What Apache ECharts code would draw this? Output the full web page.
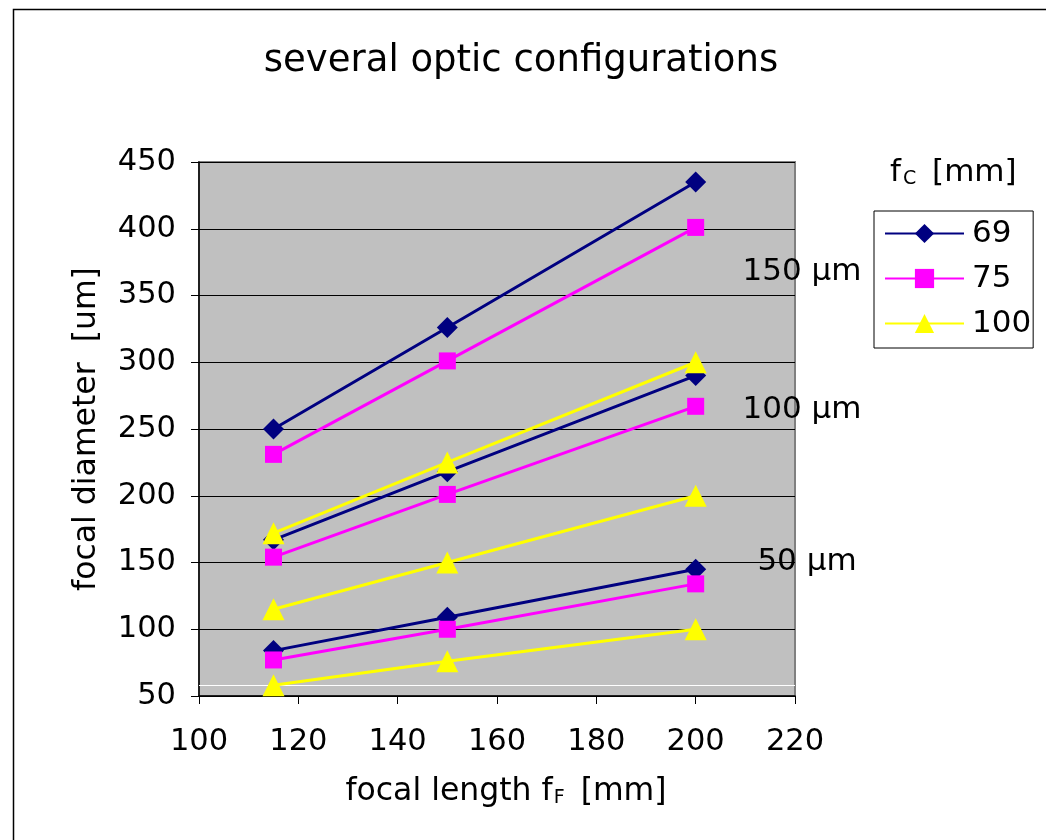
<!DOCTYPE html>
<html>
<head>
<meta charset="utf-8">
<title>several optic configurations</title>
<script src="https://cdn.jsdelivr.net/npm/echarts@6/dist/echarts.min.js"></script>
<style>
  html, body { margin: 0; padding: 0; background: #ffffff; }
  #chart { width: 1046px; height: 840px; }
</style>
</head>
<body>
<div id="chart"></div>
<script>
// focal length of the focusing lens f_F [mm]
const focalLength = [115, 150, 200];

// focal diameter [um] for collimator f_C = 69 mm, per fibre core (150, 100, 50 µm)
const fc69_150 = [250, 326, 435];
const fc69_100 = [167, 218, 290];
const fc69_50 = [84, 109, 145];

// collimator f_C = 75 mm
const fc75_150 = [231, 301, 401];
const fc75_100 = [154, 201, 267];
const fc75_50 = [77, 100, 134];

// collimator f_C = 100 mm
const fc100_150 = [172, 225, 300];
const fc100_100 = [115, 150, 200];
const fc100_50 = [58, 76, 100];

// white reference rule drawn across the plot
const whiteRule = 58;

// axis ticks
const xTicks = { min: 100, max: 220, step: 20 };
const yTicks = { min: 50, max: 450, step: 50 };

const legendNames = ['69', '75', '100'];
const coreLabels = ['150 µm', '100 µm', '50 µm'];

const FONT = '"DejaVu Sans", Verdana, sans-serif';

function pairs(ys) {
  return ys.map((y, i) => [focalLength[i], y]);
}

const styles = {
  '69':  { color: '#000080', symbol: 'diamond', symbolSize: 21 },
  '75':  { color: '#FF00FF', symbol: 'rect', symbolSize: 17 },
  '100': { color: '#FFFF00', symbol: 'triangle', symbolSize: 22 }
};

function makeSeries(name, ys) {
  const s = styles[name];
  return {
    name: name,
    type: 'line',
    data: pairs(ys),
    symbol: s.symbol,
    symbolSize: s.symbolSize,
    showAllSymbol: true,
    lineStyle: { color: s.color, width: 3 },
    itemStyle: { color: s.color },
    emphasis: { disabled: true },
    z: 3
  };
}

const series = [
  makeSeries('69', fc69_150),
  makeSeries('69', fc69_100),
  makeSeries('69', fc69_50),
  makeSeries('75', fc75_150),
  makeSeries('75', fc75_100),
  makeSeries('75', fc75_50),
  makeSeries('100', fc100_150),
  makeSeries('100', fc100_100),
  makeSeries('100', fc100_50)
];

series[0].markLine = {
  silent: true,
  symbol: 'none',
  label: { show: false },
  lineStyle: { color: '#ffffff', width: 1, type: 'solid' },
  data: [{ yAxis: whiteRule }],
  z: 1
};

const chart = echarts.init(document.getElementById('chart'), null, { renderer: 'canvas' });

chart.setOption({
  animation: false,
  backgroundColor: '#ffffff',
  textStyle: { fontFamily: FONT },
  title: {
    text: 'several optic configurations',
    left: 516,
    top: 38,
    textAlign: 'center',
    textStyle: { fontFamily: FONT, fontSize: 37, fontWeight: 'normal', color: '#000' }
  },
  grid: {
    left: 199,
    right: 251,
    top: 162,
    bottom: 144,
    show: true,
    backgroundColor: '#C0C0C0',
    borderColor: '#808080',
    borderWidth: 2
  },
  legend: {
    data: legendNames,
    orient: 'vertical',
    left: 874,
    top: 211,
    width: 157,
    itemWidth: 79,
    itemHeight: 24,
    itemGap: 14,
    padding: [7, 2, 9, 10],
    borderColor: '#000',
    borderWidth: 1,
    backgroundColor: '#fff',
    selectedMode: false,
    textStyle: { fontFamily: FONT, fontSize: 31, color: '#000', lineHeight: 30, padding: [0, 0, 0, 3] }
  },
  xAxis: {
    type: 'value',
    min: xTicks.min,
    max: xTicks.max,
    interval: xTicks.step,
    name: '{a|focal length f}{s|F}{a| [mm]}',
    nameLocation: 'middle',
    nameGap: 79,
    nameTextStyle: {
      padding: [0, 0, 0, 18],
      rich: {
        a: { fontFamily: FONT, fontSize: 31.5, color: '#000' },
        s: { fontFamily: FONT, fontSize: 19, color: '#000', padding: [14, 6, 0, 1] }
      }
    },
    axisLine: { show: true, onZero: false, lineStyle: { color: '#000', width: 1.5 } },
    axisTick: { show: true, inside: false, length: 8, lineStyle: { color: '#000', width: 1 } },
    axisLabel: { fontFamily: FONT, fontSize: 30.5, color: '#000', margin: 31 },
    splitLine: { show: false }
  },
  yAxis: {
    type: 'value',
    min: yTicks.min,
    max: yTicks.max,
    interval: yTicks.step,
    name: 'focal diameter  [um]',
    nameLocation: 'middle',
    nameGap: 96,
    nameTextStyle: { fontFamily: FONT, fontSize: 31.5, color: '#000' },
    axisLine: { show: true, onZero: false, lineStyle: { color: '#000', width: 1.5 } },
    axisTick: { show: true, inside: false, length: 8, lineStyle: { color: '#000', width: 1 } },
    axisLabel: { fontFamily: FONT, fontSize: 30.5, color: '#000', margin: 23 },
    splitLine: { show: true, lineStyle: { color: '#000', width: 1 } }
  },
  graphic: [
    {
      type: 'rect',
      left: 11,
      top: 7,
      shape: { x: 0, y: 0, width: 1200, height: 1000 },
      style: { fill: 'none', stroke: '#000', lineWidth: 1.5 },
      silent: true,
      z: -10
    },
    {
      type: 'text',
      left: 890,
      top: 157,
      style: {
        text: '{a|f}{s|C}{a| [mm]}',
        rich: {
          a: { fontFamily: FONT, fontSize: 31, fill: '#000' },
          s: { fontFamily: FONT, fontSize: 19, fill: '#000', padding: [14, 6, 0, 2] }
        }
      }
    },
    {
      type: 'text', x: 802, y: 272,
      style: { text: coreLabels[0], font: '31px ' + FONT, fill: '#000', align: 'center', verticalAlign: 'middle' }
    },
    {
      type: 'text', x: 802, y: 410,
      style: { text: coreLabels[1], font: '31px ' + FONT, fill: '#000', align: 'center', verticalAlign: 'middle' }
    },
    {
      type: 'text', x: 807, y: 562,
      style: { text: coreLabels[2], font: '31px ' + FONT, fill: '#000', align: 'center', verticalAlign: 'middle' }
    }
  ],
  series: series
});
</script>
</body>
</html>
